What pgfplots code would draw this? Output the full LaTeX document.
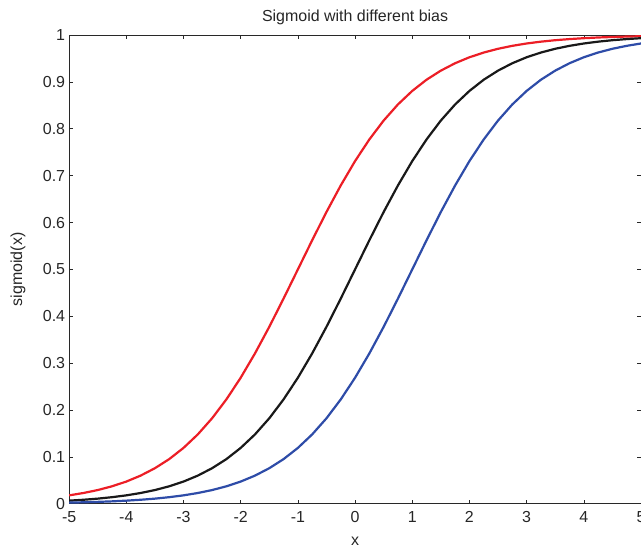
\documentclass[border=0pt]{standalone}
\usepackage{pgfplots}
\pgfplotsset{compat=1.18}
\usepackage{pgfplotstable}
\usepackage{fontspec}
\setmainfont{Liberation Sans}
\definecolor{cred}{RGB}{236,30,38}
\definecolor{cblue}{RGB}{46,76,168}
\definecolor{cframe}{RGB}{40,40,40}

\pgfplotstableread{
x red black blue
-5.00 0.0180 0.0067 0.0025
-4.75 0.0230 0.0086 0.0032
-4.50 0.0293 0.0110 0.0041
-4.25 0.0373 0.0141 0.0052
-4.00 0.0474 0.0180 0.0067
-3.75 0.0601 0.0230 0.0086
-3.50 0.0759 0.0293 0.0110
-3.25 0.0953 0.0373 0.0141
-3.00 0.1192 0.0474 0.0180
-2.75 0.1480 0.0601 0.0230
-2.50 0.1824 0.0759 0.0293
-2.25 0.2227 0.0953 0.0373
-2.00 0.2689 0.1192 0.0474
-1.75 0.3208 0.1480 0.0601
-1.50 0.3775 0.1824 0.0759
-1.25 0.4378 0.2227 0.0953
-1.00 0.5000 0.2689 0.1192
-0.75 0.5622 0.3208 0.1480
-0.50 0.6225 0.3775 0.1824
-0.25 0.6792 0.4378 0.2227
0.00 0.7311 0.5000 0.2689
0.25 0.7773 0.5622 0.3208
0.50 0.8176 0.6225 0.3775
0.75 0.8520 0.6792 0.4378
1.00 0.8808 0.7311 0.5000
1.25 0.9047 0.7773 0.5622
1.50 0.9241 0.8176 0.6225
1.75 0.9399 0.8520 0.6792
2.00 0.9526 0.8808 0.7311
2.25 0.9627 0.9047 0.7773
2.50 0.9707 0.9241 0.8176
2.75 0.9770 0.9399 0.8520
3.00 0.9820 0.9526 0.8808
3.25 0.9859 0.9627 0.9047
3.50 0.9890 0.9707 0.9241
3.75 0.9914 0.9770 0.9399
4.00 0.9933 0.9820 0.9526
4.25 0.9948 0.9859 0.9627
4.50 0.9959 0.9890 0.9707
4.75 0.9968 0.9914 0.9770
5.00 0.9975 0.9933 0.9820
}\sig

\begin{document}
\begin{tikzpicture}
\begin{axis}[
  scale only axis,
  width=571bp, height=468bp,
  xmin=-5, xmax=5, ymin=0, ymax=1,
  xtick={-5,-4,-3,-2,-1,0,1,2,3,4,5},
  ytick={0,0.1,0.2,0.3,0.4,0.5,0.6,0.7,0.8,0.9,1},
  /pgf/number format/assume math mode=true,
  tick align=inside,
  major tick length=4bp,
  tick style={cframe, line width=0.6bp},
  axis line style={cframe, line width=1bp},
  every tick label/.append style={font=\fontsize{16}{19}\selectfont, text=black!85},
  xticklabel style={yshift=-4bp},
  yticklabel style={xshift=-0.5bp, /pgf/number format/.cd, fixed, precision=1},
  title={Sigmoid with different bias},
  title style={font=\fontsize{16}{19}\selectfont, text=black!85, at={(axis description cs:0.5,1.024)}, anchor=center},
  xlabel={x},
  ylabel={sigmoid(x)},
  label style={font=\fontsize{16}{19}\selectfont, text=black!85},
  xlabel style={at={(axis description cs:0.5,-0.0790)}, anchor=center},
  ylabel style={at={(axis description cs:-0.0893,0.5)}, anchor=center},
  every axis plot/.append style={line width=2.2bp},
]
\addplot[cred, no marks] table[x=x, y=red] {\sig};
\addplot[black!90, no marks] table[x=x, y=black] {\sig};
\addplot[cblue, no marks] table[x=x, y=blue] {\sig};
\end{axis}
\pgfresetboundingbox
\useasboundingbox ([shift={(-69bp,-43bp)}]current axis.south west) rectangle ([shift={(0bp,35bp)}]current axis.north east);
\end{tikzpicture}
\end{document}
